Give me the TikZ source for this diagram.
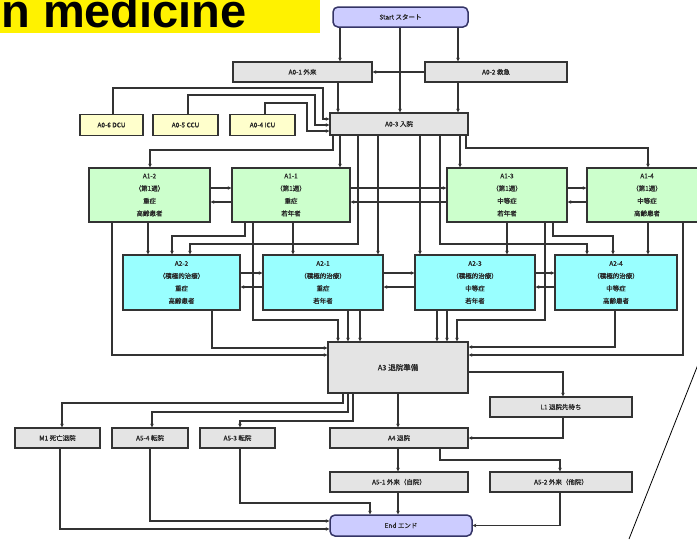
\documentclass[tikz,border=0pt]{standalone}
\usepackage{fontspec}
\newfontfamily\jp{Noto Sans CJK JP}[FakeBold=0.8]
\newfontfamily\bannerfont{Liberation Sans}
\usetikzlibrary{arrows.meta}

\definecolor{lav}{HTML}{CCCCFF}
\definecolor{navy}{HTML}{343466}
\definecolor{grayfill}{HTML}{E4E4E4}
\definecolor{icu}{HTML}{FFFFCC}
\definecolor{mint}{HTML}{CCFFCC}
\definecolor{aqua}{HTML}{99FFFF}
\definecolor{edge}{HTML}{333333}

\tikzset{
  box/.style={draw=edge, line width=1.5pt, inner sep=0pt, align=center,
    text=black!85, font=\jp\fontsize{6.5}{7}\selectfont},
  graybox/.style={box, fill=grayfill},
  icubox/.style={box, fill=icu},
  stagebox/.style={box, fill=mint, font=\jp\fontsize{6.5}{12.5}\selectfont,
    minimum width=120pt, minimum height=54pt},
  carebox/.style={box, fill=aqua, font=\jp\fontsize{6.5}{12.5}\selectfont,
    minimum width=120pt, minimum height=55pt},
  termbox/.style={box, fill=lav, draw=navy, rounded corners=5pt},
  conn/.style={draw=edge, line width=1.1pt, -{Stealth[length=3.5pt,width=3.6pt]}},
}

\begin{document}
\begin{tikzpicture}[x=1pt, y=-1pt]
\useasboundingbox (0,0) rectangle (697,539);

% title banner
\fill[yellow] (0,0) rectangle (320,33);
\node[anchor=base east, inner sep=0pt,
  font=\bannerfont\bfseries\fontsize{47}{47}\selectfont] (banner) at (247,27) {n medicine};

% entry
\node[termbox, minimum width=135pt, minimum height=20pt] (start) at (400.5,17) {Start スタート};
\node[graybox, minimum width=139pt, minimum height=20pt] (a01) at (302.5,72) {A0-1 外来};
\node[graybox, minimum width=142pt, minimum height=20pt] (a02) at (496,72) {A0-2 救急};
\node[graybox, minimum width=138pt, minimum height=22pt] (a03) at (399,124) {A0-3 入院};
\node[icubox, minimum width=63pt, minimum height=21pt] (a06) at (111.5,125) {A0-6 DCU};
\node[icubox, minimum width=65pt, minimum height=21pt] (a05) at (185.5,125) {A0-5 CCU};
\node[icubox, minimum width=65pt, minimum height=21pt] (a04) at (262.5,125) {A0-4 ICU};

% first stage
\node[stagebox, minimum width=121pt] (a12) at (149.5,195) {A1-2\\（第1週）\\重症\\高齢患者};
\node[stagebox, minimum width=118pt] (a11) at (291,195) {A1-1\\（第1週）\\重症\\若年者};
\node[stagebox] (a13) at (507,195) {A1-3\\（第1週）\\中等症\\若年者};
\node[stagebox] (a14) at (647,195) {A1-4\\（第1週）\\中等症\\高齢患者};

% second stage
\node[carebox, minimum width=117pt] (a22) at (181.5,282.5) {A2-2\\（積極的治療）\\重症\\高齢患者};
\node[carebox] (a21) at (323,282.5) {A2-1\\（積極的治療）\\重症\\若年者};
\node[carebox] (a23) at (475,282.5) {A2-3\\（積極的治療）\\中等症\\若年者};
\node[carebox, minimum width=122pt] (a24) at (616,282.5) {A2-4\\（積極的治療）\\中等症\\高齢患者};

% discharge
\node[graybox, minimum width=140pt, minimum height=51pt, font=\jp\fontsize{7.5}{8}\selectfont] (a3) at (398,367.5) {A3 退院準備};
\node[graybox, minimum width=142pt, minimum height=20pt] (l1) at (561,407) {L1 退院先待ち};
\node[graybox, minimum width=138pt, minimum height=20pt] (a4) at (399,438) {A4 退院};
\node[graybox, minimum width=85pt, minimum height=20pt] (m1) at (57.5,438) {M1 死亡退院};
\node[graybox, minimum width=76pt, minimum height=20pt] (a54) at (150,438) {A5-4 転院};
\node[graybox, minimum width=75pt, minimum height=20pt] (a53) at (237.5,438) {A5-3 転院};
\node[graybox, minimum width=138pt, minimum height=20pt] (a51) at (399,482) {A5-1 外来（自院）};
\node[graybox, minimum width=142pt, minimum height=20pt] (a52) at (561,482) {A5-2 外来（他院）};
\node[termbox, minimum width=142pt, minimum height=21pt] (end) at (401,525.5) {End エンド};

% entry routes
\draw[conn] (start.south -| 340,0) -- (a01.north -| 340,0);
\draw[conn] (start.south -| 400,0) -- (a03.north -| 400,0);
\draw[conn] (start.south -| 458,0) -- (a02.north -| 458,0);
\draw[conn] (a02.west) -- (a01.east);
\draw[conn] (a01.south -| 338,0) -- (a03.north -| 338,0);
\draw[conn] (a02.south -| 458,0) -- (a03.north -| 458,0);
\draw[conn] (a06.north -| 113,0) |- (323,88) |- (a03.west |- 0,119);
\draw[conn] (a05.north -| 188,0) |- (315,95) |- (a03.west |- 0,125);
\draw[conn] (a04.north -| 265,0) |- (307,103) |- (a03.west |- 0,131);

% admission to first and second stage
\draw[conn] (a03.south -| 333,0) |- (150,150) -- (a12.north -| 150,0);
\draw[conn] (a03.south -| 340,0) -- (a11.north -| 340,0);
\draw[conn] (a03.south -| 460,0) -- (a13.north -| 460,0);
\draw[conn] (a03.south -| 466,0) |- (648,148) -- (a14.north -| 648,0);
\draw[conn] (a03.south -| 358,0) |- (190,244) -- (a22.north -| 190,0);
\draw[conn] (a03.south -| 378,0) -- (a21.north -| 378,0);
\draw[conn] (a03.south -| 420,0) -- (a23.north -| 420,0);
\draw[conn] (a03.south -| 440,0) |- (587,244) -- (a24.north -| 587,0);

% transfers within the first stage
\draw[conn] (a12.east |- 0,188) -- (a11.west |- 0,188);
\draw[conn] (a11.west |- 0,202) -- (a12.east |- 0,202);
\draw[conn] (a11.east |- 0,188) -- (a13.west |- 0,188);
\draw[conn] (a13.west |- 0,202) -- (a11.east |- 0,202);
\draw[conn] (a13.east |- 0,188) -- (a14.west |- 0,188);
\draw[conn] (a14.west |- 0,202) -- (a13.east |- 0,202);

% transfers within the second stage
\draw[conn] (a22.east |- 0,273) -- (a21.west |- 0,273);
\draw[conn] (a21.west |- 0,287) -- (a22.east |- 0,287);
\draw[conn] (a21.east |- 0,273) -- (a23.west |- 0,273);
\draw[conn] (a23.west |- 0,287) -- (a21.east |- 0,287);
\draw[conn] (a23.east |- 0,273) -- (a24.west |- 0,273);
\draw[conn] (a24.west |- 0,287) -- (a23.east |- 0,287);

% first stage to second stage
\draw[conn] (a12.south -| 148,0) -- (a22.north -| 148,0);
\draw[conn] (a11.south -| 245,0) |- (172,236) -- (a22.north -| 172,0);
\draw[conn] (a11.south -| 293,0) -- (a21.north -| 293,0);
\draw[conn] (a13.south -| 507,0) -- (a23.north -| 507,0);
\draw[conn] (a13.south -| 553,0) |- (613,236) -- (a24.north -| 613,0);
\draw[conn] (a14.south -| 648,0) -- (a24.north -| 648,0);

% into discharge preparation
\draw[conn] (a12.south -| 112,0) |- (a3.west |- 0,355);
\draw[conn] (a22.south -| 212,0) |- (a3.west |- 0,348);
\draw[conn] (a11.south -| 253,0) |- (338,320) -- (a3.north -| 338,0);
\draw[conn] (a21.south -| 348,0) -- (a3.north -| 348,0);
\draw[conn] (a21.south -| 360,0) -- (a3.north -| 360,0);
\draw[conn] (a23.south -| 437,0) -- (a3.north -| 437,0);
\draw[conn] (a23.south -| 447,0) -- (a3.north -| 447,0);
\draw[conn] (a13.south -| 545,0) |- (457,320) -- (a3.north -| 457,0);
\draw[conn] (a24.south -| 615,0) |- (a3.east |- 0,347);
\draw[conn] (a14.south -| 683,0) |- (a3.east |- 0,355);

% discharge routes
\draw[conn] (a3.east |- 0,372) -| (l1.north -| 563,0);
\draw[conn] (a3.south -| 398,0) -- (a4.north -| 398,0);
\draw[conn] (a3.south -| 343,0) |- (62,403) -- (m1.north -| 62,0);
\draw[conn] (a3.south -| 348,0) |- (152,412) -- (a54.north -| 152,0);
\draw[conn] (a3.south -| 353,0) |- (240,421) -- (a53.north -| 240,0);
\draw[conn] (l1.south -| 563,0) |- (a4.east);
\draw[conn] (a4.south -| 398,0) -- (a51.north -| 398,0);
\draw[conn] (a4.south -| 440,0) |- (560,460) -- (a52.north -| 560,0);

% to the end
\draw[conn] (a51.south -| 398,0) -- (end.north -| 398,0);
\draw[conn] (a52.south -| 560,0) |- (end.east);
\draw[conn] (a53.south -| 240,0) |- (370,503) -- (end.north -| 370,0);
\draw[conn] (a54.south -| 150,0) |- (end.west |- 0,521);
\draw[conn] (m1.south -| 60,0) |- (end.west |- 0,529);

% callout edge
\draw[line width=0.8pt] (699,362) -- (629,539);
\end{tikzpicture}
\end{document}
